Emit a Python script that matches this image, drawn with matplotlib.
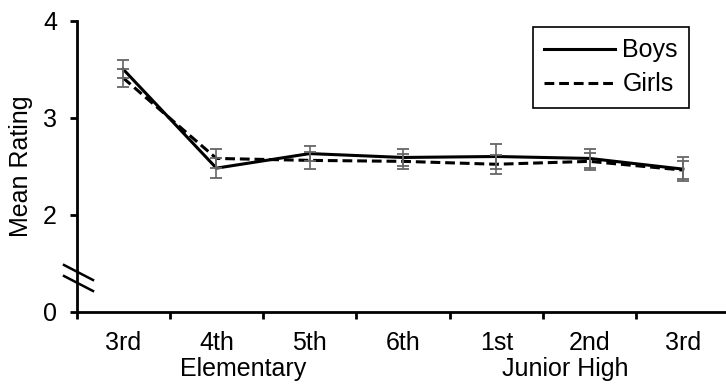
import matplotlib
matplotlib.use('Agg')
import matplotlib.pyplot as plt
from matplotlib.lines import Line2D

plt.rcParams['font.family'] = ['Liberation Sans', 'DejaVu Sans']

grades = ['3rd', '4th', '5th', '6th', '1st', '2nd', '3rd']
groups = ['Elementary', 'Junior High']
boys = [3.50, 2.48, 2.63, 2.59, 2.60, 2.58, 2.47]
boys_err = [0.09, 0.10, 0.08, 0.09, 0.13, 0.10, 0.12]
girls = [3.41, 2.58, 2.56, 2.55, 2.52, 2.55, 2.46]
girls_err = [0.09, 0.10, 0.09, 0.08, 0.10, 0.09, 0.09]
ytick_labels = ['0', '2', '3', '4']

W, H = 726, 385
fig = plt.figure(figsize=(W / 100, H / 100), dpi=100)
ax = fig.add_axes([76.5 / W, 1 - 311.7 / H, 653 / W, 291 / H])

x = list(range(len(grades)))
fs = 18
err_kw = dict(ecolor='#666666', elinewidth=1.2, capsize=4.3, capthick=1.3, fmt='none', zorder=4)

ax.plot(x, boys, color='black', lw=2.2, zorder=3, label='Boys')
ax.plot(x, girls, color='black', lw=2.2, dashes=(3.2, 1.6), zorder=3, label='Girls')
ax.errorbar(x, boys, yerr=boys_err, **err_kw)
ax.errorbar(x, girls, yerr=girls_err, **err_kw)

ax.set_xlim(-0.5, len(grades) - 0.5)
ax.set_ylim(1, 4)

# axis look
for s in ('top', 'right'):
    ax.spines[s].set_visible(False)
for s in ('left', 'bottom'):
    ax.spines[s].set_linewidth(2.0)

ax.set_yticks([1, 2, 3, 4])
ax.set_yticklabels(ytick_labels, fontsize=fs)
ax.tick_params(axis='y', length=5, width=2.0, pad=9)

# category boundaries as ticks, labels centred between them
ax.set_xticks([i - 0.5 for i in range(len(grades) + 1)])
ax.set_xticklabels([])
ax.set_xticks(x, minor=True)
ax.set_xticklabels(grades, minor=True, fontsize=fs)
ax.tick_params(axis='x', which='major', length=5, width=2.0)
ax.tick_params(axis='x', which='minor', length=0, pad=14)

tr = ax.get_xaxis_transform()
gy = -(376 - 311.7) / 291
ax.text(1.29, gy, groups[0], transform=tr, ha='center', va='baseline', fontsize=fs)
ax.text(4.74, gy, groups[1], transform=tr, ha='center', va='baseline', fontsize=fs)

fig.text(21 / W, 1 - 166 / H, 'Mean Rating', rotation=90, ha='center', va='center', fontsize=fs)

# axis break marks
for y0 in (265, 276):
    fig.add_artist(Line2D([64 / W, 93 / W], [1 - y0 / H, 1 - (y0 + 15) / H],
                          color='black', lw=1.8, transform=fig.transFigure))

leg = ax.legend(loc='upper right', bbox_to_anchor=(689 / W, 1 - 27 / H),
                bbox_transform=fig.transFigure, borderaxespad=0, fontsize=fs,
                handlelength=2.85, handletextpad=0.28, labelspacing=0.4, borderpad=0.45,
                fancybox=False, framealpha=1, edgecolor='black')
leg.get_frame().set_linewidth(1.2)

fig.savefig('out.png', dpi=100)
